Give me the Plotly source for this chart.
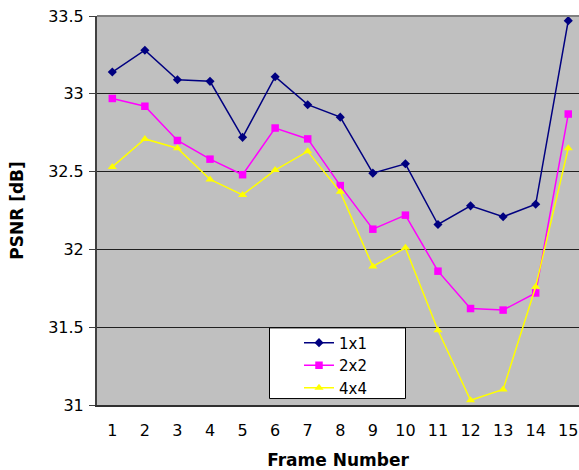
import plotly.graph_objects as go

frames = list(range(1, 16))
psnr_1x1 = [33.14, 33.28, 33.09, 33.08, 32.72, 33.11, 32.93, 32.85, 32.49, 32.55, 32.16, 32.28, 32.21, 32.29, 33.47]
psnr_2x2 = [32.97, 32.92, 32.70, 32.58, 32.48, 32.78, 32.71, 32.41, 32.13, 32.22, 31.86, 31.62, 31.61, 31.72, 32.87]
psnr_4x4 = [32.53, 32.71, 32.65, 32.45, 32.35, 32.51, 32.63, 32.37, 31.89, 32.01, 31.48, 31.03, 31.10, 31.76, 32.65]
y_ticks = [31, 31.5, 32, 32.5, 33, 33.5]
y_tick_text = ["31", "31.5", "32", "32.5", "33", "33.5"]

FONT = "DejaVu Sans"

fig = go.Figure()
fig.add_trace(go.Scatter(x=frames, y=psnr_1x1, name="1x1", mode="lines+markers",
                         line=dict(color="#000080", width=1.5),
                         marker=dict(symbol="diamond", size=7, color="#000080")))
fig.add_trace(go.Scatter(x=frames, y=psnr_2x2, name="2x2", mode="lines+markers",
                         line=dict(color="#FF00FF", width=1.5),
                         marker=dict(symbol="square", size=7.5, color="#FF00FF")))
fig.add_trace(go.Scatter(x=frames, y=psnr_4x4, name="4x4", mode="lines+markers",
                         line=dict(color="#FFFF00", width=1.5),
                         marker=dict(symbol="triangle-up", size=8, color="#FFFF00")))

W, H = 579, 470
L, R, T, B = 97, 0, 16, 63
pw = W - L - R
ph = H - T - B

def px_x(p):
    return (p - L) / pw

def px_y(p):
    return (H - B - p) / ph

fig.update_layout(
    width=W, height=H,
    margin=dict(l=L, r=R, t=T, b=B),
    paper_bgcolor="white",
    plot_bgcolor="#C0C0C0",
    font=dict(family=FONT, size=16, color="black"),
    showlegend=True,
    legend=dict(x=px_x(299), y=px_y(328), xanchor="left", yanchor="top",
                bgcolor="rgba(0,0,0,0)", borderwidth=0,
                font=dict(family=FONT, size=15, color="black")),
    xaxis=dict(range=[0.53, 15.33], tickmode="array", tickvals=frames,
               ticktext=[str(f) for f in frames], showgrid=False,
               zeroline=False, showline=True, linecolor="#303030", linewidth=1.5,
               ticks="", ticklabelstandoff=10,
               title=dict(text="<b>Frame Number</b>", standoff=18,
                          font=dict(family=FONT, size=17))),
    yaxis=dict(range=[31, 33.5], tickmode="array", tickvals=y_ticks, ticktext=y_tick_text,
               showgrid=True, gridcolor="#202020", gridwidth=1,
               zeroline=False, showline=True, linecolor="#404040", linewidth=2,
               ticks="outside", ticklen=6, tickcolor="#404040", tickwidth=1,
               ticklabelstandoff=2,
               title=dict(text="<b>PSNR [dB]</b>", standoff=20,
                          font=dict(family=FONT, size=17))),
    shapes=[
        dict(type="line", xref="paper", yref="paper", x0=0, x1=1, y0=1, y1=1,
             line=dict(color="#808080", width=2), layer="above"),
        dict(type="rect", xref="paper", yref="paper",
             x0=px_x(269.5), x1=px_x(405.5), y0=px_y(400.5), y1=px_y(329.5),
             fillcolor="white", line=dict(color="black", width=1), layer="above"),
    ],
)

fig.write_html(
    "out.html",
    config={"displayModeBar": False},
    post_script="document.body.style.margin='0';document.body.style.overflow='hidden';",
)
